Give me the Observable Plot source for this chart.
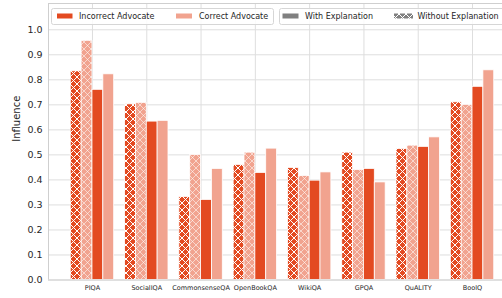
<!DOCTYPE html>
<html><head><meta charset="utf-8">
<script src="https://cdn.jsdelivr.net/npm/d3@7"></script>
<script src="https://cdn.jsdelivr.net/npm/@observablehq/plot@0.6"></script>
<style>
body{margin:0;background:#fff;}
#chart{position:relative;width:502px;height:298px;overflow:hidden;}
</style>
</head><body><div id="chart"></div>
<script>
const categories = ["PIQA","SocialIQA","CommonsenseQA","OpenBookQA","WikiQA","GPQA","QuALITY","BoolQ"];
// Without explanation (hatched)
const incorrectWithout = [0.834,0.702,0.332,0.460,0.448,0.509,0.524,0.710];
const correctWithout   = [0.956,0.708,0.500,0.509,0.416,0.440,0.537,0.700];
// With explanation (solid)
const incorrectWith    = [0.760,0.633,0.320,0.428,0.397,0.444,0.532,0.772];
const correctWith      = [0.822,0.636,0.444,0.525,0.430,0.390,0.570,0.838];
const yTicks = [0,0.1,0.2,0.3,0.4,0.5,0.6,0.7,0.8,0.9,1.0];
const legendAdvocate = ["Incorrect Advocate","Correct Advocate"];
const legendExplanation = ["With Explanation","Without Explanation"];

const DARK = "#e34a21", LIGHT = "#f1a38f", GREY = "#808080";
const W = 0.2;
const series = [
  {values: incorrectWithout, offset: -2*W, fill: "url(#hatchDark)"},
  {values: correctWithout,   offset: -1*W, fill: "url(#hatchLight)"},
  {values: incorrectWith,    offset: 0,    fill: DARK},
  {values: correctWith,      offset: W,    fill: LIGHT}
];
const idx = d3.range(categories.length);
const font = "DejaVu Sans, sans-serif";

const barMarks = series.map(s => Plot.rectY(idx, {
  x1: i => i + s.offset, x2: i => i + s.offset + W,
  y1: 0, y2: i => s.values[i],
  fill: s.fill, stroke: "white", strokeWidth: 0.8
}));

const chart = Plot.plot({
  width: 502, height: 298,
  marginLeft: 48, marginRight: 0, marginTop: 3, marginBottom: 18.5,
  style: {fontFamily: font, background: "white"},
  x: {type: "linear", domain: [-0.81, 7.81], range: [48, 516]},
  y: {domain: [0, 1.105]},
  marks: [
    Plot.ruleY(yTicks, {stroke: "#dedede", strokeWidth: 1}),
    Plot.ruleX(idx, {stroke: "#dedede", strokeWidth: 1}),
    ...barMarks,
    Plot.ruleY([0, 1.105], {stroke: "#cfcfcf", strokeWidth: 1}),
    Plot.ruleX([-0.81], {stroke: "#cfcfcf", strokeWidth: 1}),
    Plot.axisY({ticks: yTicks, tickFormat: d3.format(".1f"), tickSize: 0, tickPadding: 6, fontSize: 9.5, color: "#262626", label: null}),
    Plot.axisX({ticks: idx, tickFormat: i => categories[i], tickSize: 0, tickPadding: 5, fontSize: 6.5, color: "#262626", label: null}),
    Plot.text(["Influence"], {frameAnchor: "left", dx: -32, rotate: -90, text: d => d, fontSize: 10, fill: "#262626"})
  ]
});
document.getElementById("chart").appendChild(chart);

const svg = d3.select(chart);
const defs = svg.insert("defs", ":first-child");
function hatch(id, bg, lineOpacity) {
  const s = 7;
  const p = defs.append("pattern").attr("id", id).attr("patternUnits", "userSpaceOnUse")
    .attr("width", s).attr("height", s);
  p.append("rect").attr("width", s).attr("height", s).attr("fill", bg);
  const g = p.append("g").attr("stroke", "white").attr("stroke-width", 1).attr("stroke-opacity", lineOpacity).attr("fill", "none");
  g.append("path").attr("d", `M0,0L${s},${s}`);
  g.append("path").attr("d", `M0,${s}L${s},0`);
}
hatch("hatchDark", DARK, 1);
hatch("hatchLight", LIGHT, 0.55);
hatch("hatchGrey", GREY, 1);

const lg = svg.append("g").attr("font-family", font).attr("font-size", 8).attr("fill", "#262626").attr("text-anchor", "start");
function box(x, w) {
  lg.append("rect").attr("x", x).attr("y", 8.5).attr("width", w).attr("height", 16).attr("rx", 2)
    .attr("fill", "white").attr("fill-opacity", 0.85).attr("stroke", "#d6d6d6");
}
function item(px, pw, fill, tx, label) {
  lg.append("rect").attr("x", px).attr("y", 13.5).attr("width", pw).attr("height", 5).attr("fill", fill);
  lg.append("text").attr("x", tx).attr("y", 16.3).attr("dy", "0.32em").attr("text-anchor", "start").text(label);
}
box(51.5, 222);
item(57, 15.5, DARK, 79, legendAdvocate[0]);
item(176, 16, LIGHT, 199, legendAdvocate[1]);
box(279.5, 240);
item(282.5, 16, GREY, 305, legendExplanation[0]);
item(394, 19, "url(#hatchGrey)", 417.5, legendExplanation[1]);
</script>
</body></html>
